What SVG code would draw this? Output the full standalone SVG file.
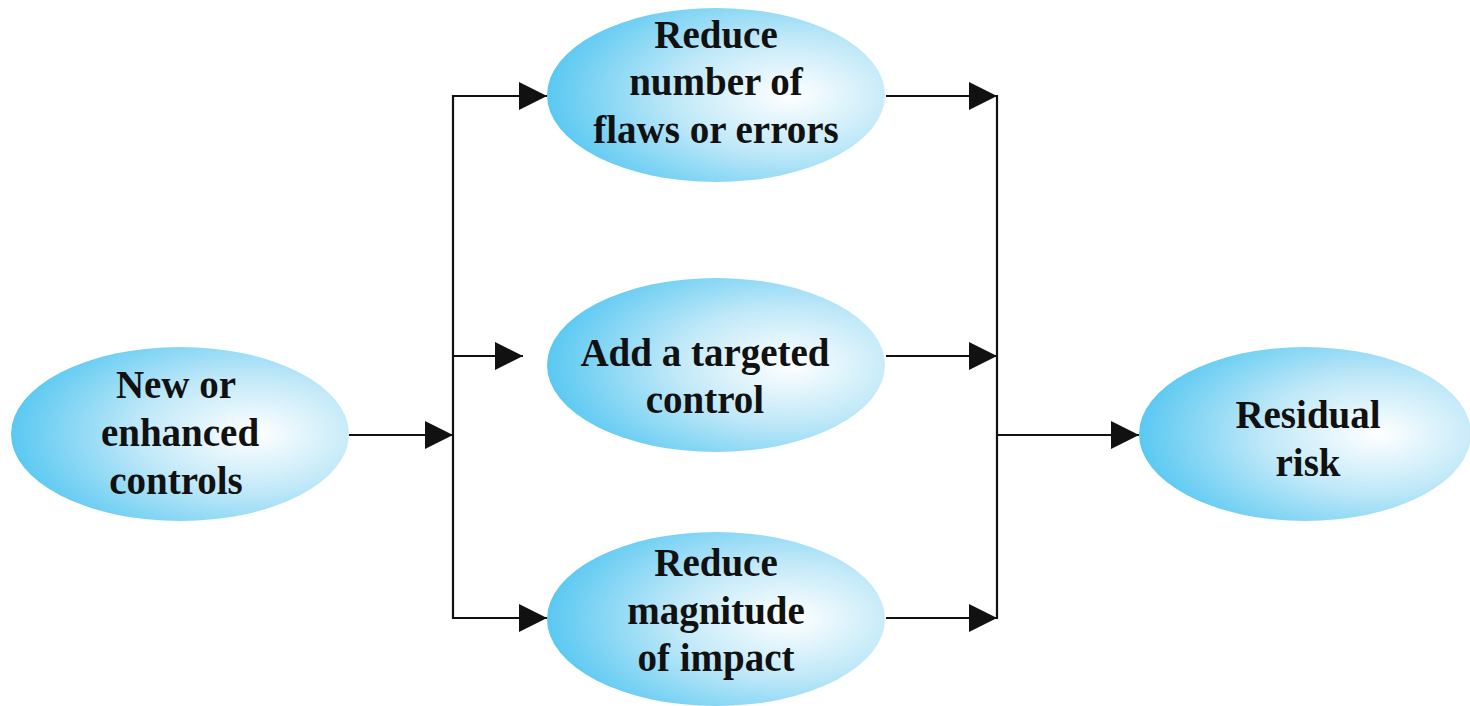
<svg xmlns="http://www.w3.org/2000/svg" width="1470" height="706" viewBox="0 0 1470 706">
<style>
.lbl{font-family:"Liberation Serif","Times New Roman",serif;font-weight:bold;font-size:39px;fill:#111;text-anchor:middle}
.conn{stroke:#111;stroke-width:2.2;fill:none}
.node{fill:url(#g)}
</style>
<defs>
<radialGradient id="g" cx="0.7" cy="0.5" r="0.75" fx="0.72" fy="0.5">
<stop offset="0" stop-color="#ffffff"/>
<stop offset="0.45" stop-color="#bfe8f8"/>
<stop offset="1" stop-color="#4cc4f1"/>
</radialGradient>
<marker id="ah" markerWidth="28" markerHeight="28" viewBox="0 0 28 28" refX="28" refY="14" orient="auto" markerUnits="userSpaceOnUse">
<path d="M0,0 L28,14 L0,28 Z" fill="#111"/>
</marker>
</defs>
<g id="connectors">
<line class="conn" x1="349" y1="435" x2="453" y2="435" marker-end="url(#ah)"/>
<line class="conn" x1="453" y1="95" x2="453" y2="619"/>
<line class="conn" x1="452" y1="96" x2="547" y2="96" marker-end="url(#ah)"/>
<line class="conn" x1="452" y1="356" x2="523" y2="356" marker-end="url(#ah)"/>
<line class="conn" x1="452" y1="618" x2="547" y2="618" marker-end="url(#ah)"/>
<line class="conn" x1="886" y1="96" x2="997" y2="96" marker-end="url(#ah)"/>
<line class="conn" x1="886" y1="356" x2="997" y2="356" marker-end="url(#ah)"/>
<line class="conn" x1="886" y1="618" x2="997" y2="618" marker-end="url(#ah)"/>
<line class="conn" x1="997" y1="95" x2="997" y2="619"/>
<line class="conn" x1="996" y1="435" x2="1139" y2="435" marker-end="url(#ah)"/>
</g>
<g id="n-new">
<ellipse class="node" cx="180" cy="434" rx="169" ry="87"/>
<text class="lbl" x="176" y="398">New or</text>
<text class="lbl" x="180" y="446">enhanced</text>
<text class="lbl" x="176" y="494">controls</text>
</g>
<g id="n-reduce-flaws">
<ellipse class="node" cx="716" cy="95" rx="169" ry="87"/>
<text class="lbl" x="716" y="48">Reduce</text>
<text class="lbl" x="716" y="95">number of</text>
<text class="lbl" x="716" y="143">flaws or errors</text>
</g>
<g id="n-targeted">
<ellipse class="node" cx="716" cy="365" rx="169" ry="87"/>
<text class="lbl" x="705" y="366">Add a targeted</text>
<text class="lbl" x="705" y="413">control</text>
</g>
<g id="n-magnitude">
<ellipse class="node" cx="716" cy="619" rx="169" ry="87"/>
<text class="lbl" x="716" y="576">Reduce</text>
<text class="lbl" x="716" y="624">magnitude</text>
<text class="lbl" x="716" y="671">of impact</text>
</g>
<g id="n-residual">
<ellipse class="node" cx="1305" cy="434" rx="166" ry="87"/>
<text class="lbl" x="1308" y="428">Residual</text>
<text class="lbl" x="1308" y="476">risk</text>
</g>
</svg>
